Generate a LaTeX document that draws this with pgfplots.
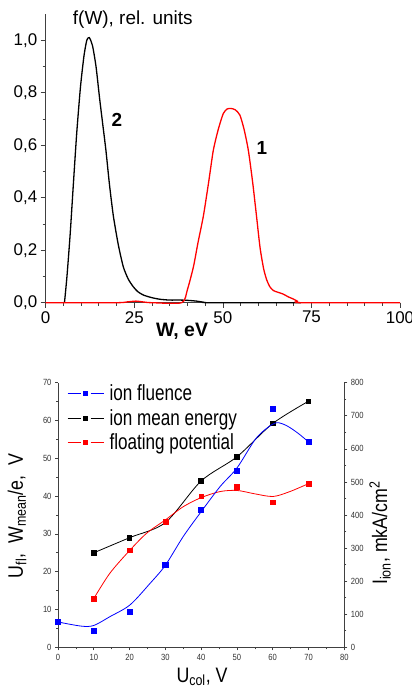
\documentclass[border=0pt]{standalone}
\usepackage{pgfplots}
\pgfplotsset{compat=1.18}
\usepackage{fontspec}
\setmainfont{Liberation Sans}
\newfontfamily\narrowfont[FakeStretch=0.85]{Liberation Sans}
\newfontfamily\legfont[FakeStretch=0.78]{Liberation Sans}

\begin{document}
\begin{tikzpicture}

% top: energy distributions
\begin{axis}[
  at={(45.7bp,390.3bp)}, anchor=south west, scale only axis,
  width=354.3bp, height=288.7bp,
  xmin=0, xmax=100, ymin=0, ymax=1.1,
  axis x line=bottom, axis y line=left,
  axis line style={-, black!75, line width=0.9bp},
  tick align=outside, tick style={black!75, line width=0.7bp},
  major tick length=5bp, minor tick length=3bp,
  xtick={0,25,50,75,100}, minor x tick num=4,
  ytick={0,0.2,0.4,0.6,0.8,1.0}, minor y tick num=1,
  tick label style={font=\fontsize{17}{19}\selectfont},
  /pgf/number format/assume math mode=true,
  yticklabel style={/pgf/number format/.cd, fixed, fixed zerofill, precision=1, use comma},
  clip=false,
]
\addplot[black, line width=1.3bp, smooth, tension=0.4] coordinates {
 (5.3,0)(6.0,0.1)(6.9,0.26)(7.8,0.45)(8.75,0.645)(9.8,0.82)(10.8,0.94)(11.6,1.0)
 (12.3,1.01)(13.2,0.98)(14.2,0.9)(15.2,0.78)(16.1,0.68)(17,0.58)(18,0.45)(19.1,0.33)
 (20.5,0.22)(21.9,0.137)(23.3,0.09)(24.7,0.061)(26,0.042)(27.6,0.029)(30,0.019)
 (32.3,0.013)(35,0.01)(37.9,0.01)(40,0.009)(42.6,0.006)(44.5,0.002)(46.4,0)(72,0)};
\addplot[red, line width=1.3bp, smooth, tension=0.4] coordinates {
 (0,0)(20,0)(23,0.003)(25.5,0.006)(28,0.002)(30,0)(38.4,0)(40,0.05)(41.7,0.137)
 (43,0.23)(44.5,0.33)(46,0.46)(47.3,0.58)(48.7,0.66)(50.1,0.72)(51.2,0.738)(52.3,0.74)
 (53.5,0.735)(54.8,0.715)(56,0.66)(57.2,0.58)(58.4,0.46)(59.5,0.33)(60.5,0.21)
 (61.5,0.13)(62.4,0.086)(63.3,0.06)(64.3,0.046)(65.5,0.04)(67,0.033)(68.5,0.022)
 (69.9,0.014)(71,0.006)(72.2,0)(100,0)};
\node[font=\bfseries\fontsize{19}{21}\selectfont] at (axis cs:20.1,0.696) {2};
\node[font=\bfseries\fontsize{19}{21}\selectfont] at (axis cs:61.0,0.59) {1};
\node[anchor=west, font=\fontsize{19}{21}\selectfont] at (axis description cs:0.067,0.979) {f(W), rel. units};
\node[font=\bfseries\fontsize{19.5}{21}\selectfont] at (axis description cs:0.385,-0.098) {W, eV};
\end{axis}

% bottom: left axis (energies, potential)
\begin{axis}[
  at={(58bp,45.7bp)}, anchor=south west, scale only axis,
  width=286.3bp, height=264.6bp,
  xmin=0, xmax=80, ymin=0, ymax=70,
  axis x line*=bottom, axis y line*=left,
  axis line style={-, black!75, line width=0.8bp},
  tick align=outside, tick style={black!75, line width=0.6bp},
  major tick length=3bp, minor tick length=2bp,
  xtick={0,10,...,80}, minor x tick num=1,
  ytick={0,10,...,70}, minor y tick num=1,
  tick label style={font=\narrowfont\fontsize{9}{10}\selectfont, black!80},
  /pgf/number format/assume math mode=true,
  clip=false,
]
\addplot[black, line width=0.8bp, smooth, tension=0.5, mark=square*, mark size=2.3bp, mark options={solid}] coordinates {
 (10,25.0)(20,29.0)(30,33.0)(40,44.0)(50,50.4)(60,59.2)(70,65.1)};
\addplot[red, line width=0.8bp, smooth, tension=0.5] coordinates {
 (10,12.9)(14.5,19.6)(20.1,25.7)(24.8,30.2)(30,33.7)(35,37.2)(40,39.6)(45.3,41.2)
 (50,41.5)(55,40.6)(60.1,39.9)(64.8,41.2)(70,43.3)};
\addplot[red, only marks, mark=square*, mark size=2.4bp] coordinates {
 (10,12.9)(20,25.7)(30,33.3)(40,40.0)(50,42.5)(60,38.4)(70,43.3)};
\end{axis}

% bottom: right axis (ion fluence)
\begin{axis}[
  at={(58bp,45.7bp)}, anchor=south west, scale only axis,
  width=286.3bp, height=264.6bp,
  xmin=0, xmax=80, ymin=0, ymax=800,
  axis x line=none, axis y line*=right,
  axis line style={-, black!75, line width=0.8bp},
  tick align=outside, tick style={black!75, line width=0.6bp},
  major tick length=3bp, minor tick length=2bp,
  ytick={0,100,...,800}, minor y tick num=1,
  tick label style={font=\narrowfont\fontsize{9}{10}\selectfont, black!80},
  /pgf/number format/assume math mode=true,
  legend style={at={(axis description cs:0.021,1.005)}, anchor=north west, draw=none, fill=none,
    font=\legfont\fontsize{22}{24}\selectfont, row sep=4bp,
    nodes={inner sep=1.5bp},
    /tikz/every odd column/.append style={column sep=4bp}},
  legend cell align=left,
  legend image code/.code={
    \draw[#1, mark=none] (0bp,0bp) -- (13bp,0bp);
    \draw[#1, mark=none] (23bp,0bp) -- (36bp,0bp);
    \path[#1, only marks, mark size=2bp] plot coordinates {(18bp,0bp)};},
]
\addplot[blue, line width=0.8bp, smooth, tension=0.5, forget plot] coordinates {
 (0,76.6)(6.5,64)(10,66)(14.5,92.6)(20.1,128)(25.7,193)(30,248)(35,335)(40,410)
 (45.3,486)(50,542)(55,627)(58.3,662)(61.1,679)(63.9,670)(67.1,647)(70,621)};
\addplot[blue, line width=0.8bp, only marks, mark=square*, mark size=2.6bp] coordinates {
 (0,76.6)(10,50)(20,106)(30,248)(40,415)(50,533)(60,721)(70,621)};
\addlegendentry{ion fluence}
\addlegendimage{black, line width=0.8bp, mark=square*}
\addlegendentry{ion mean energy}
\addlegendimage{red, line width=0.8bp, mark=square*}
\addlegendentry{floating potential}
\end{axis}

\node[rotate=90, font=\narrowfont\fontsize{21}{23}\selectfont] at (17bp,177bp)
 {U\textsubscript{fl}, \ W\textsubscript{mean}/e, \ V};
\node[rotate=90, font=\narrowfont\fontsize{21}{23}\selectfont] at (380bp,160bp)
 {I\textsubscript{ion}, mkA/cm\textsuperscript{2}};
\node[font=\narrowfont\fontsize{21}{23}\selectfont] at (202bp,16bp) {U\textsubscript{col}, V};

\pgfresetboundingbox
\path[use as bounding box] (0bp,0bp) rectangle (412bp,693bp);
\end{tikzpicture}
\end{document}
